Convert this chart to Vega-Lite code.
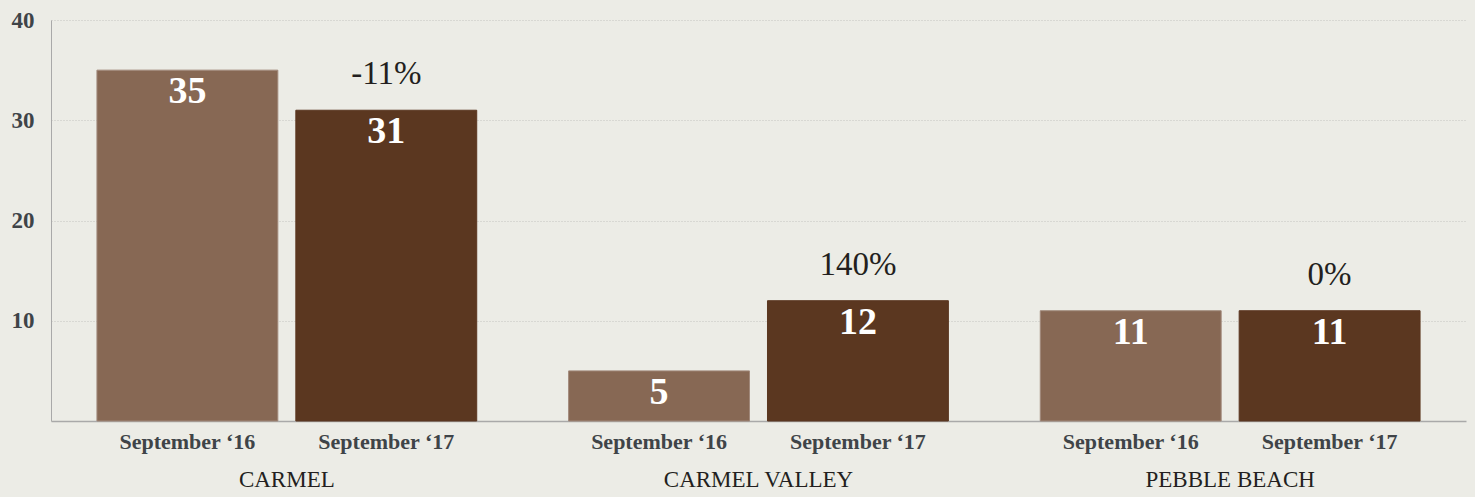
{
  "$schema": "https://vega.github.io/schema/vega-lite/v6.json",
  "width": 1415,
  "height": 401,
  "autosize": {"type": "none"},
  "padding": {"left": 51, "top": 20, "right": 9, "bottom": 76},
  "background": "#ECECE6",
  "config": {
    "view": {"stroke": null},
    "font": "Liberation Serif"
  },
  "data": {
    "values": [
      {"area": "Carmel", "period": "September ‘16", "listings": 35, "change": ""},
      {"area": "Carmel", "period": "September ‘17", "listings": 31, "change": "-11%"},
      {"area": "Carmel Valley", "period": "September ‘16", "listings": 5, "change": ""},
      {"area": "Carmel Valley", "period": "September ‘17", "listings": 12, "change": "140%"},
      {"area": "Pebble Beach", "period": "September ‘16", "listings": 11, "change": ""},
      {"area": "Pebble Beach", "period": "September ‘17", "listings": 11, "change": "0%"}
    ]
  },
  "encoding": {
    "x": {
      "field": "area",
      "type": "nominal",
      "sort": ["Carmel", "Carmel Valley", "Pebble Beach"],
      "scale": {"paddingInner": 0, "paddingOuter": 0},
      "axis": {
        "title": null,
        "labelAngle": 0,
        "ticks": false,
        "tickSize": 0,
        "labelPadding": 47,
        "labelLimit": 0,
        "labelFont": "Liberation Serif",
        "labelFontSize": 23,
        "labelColor": "#231f20",
        "labelExpr": "upper(datum.label)",
        "domainColor": "#a9a9a9",
        "domainWidth": 1.5,
        "grid": false
      }
    },
    "xOffset": {
      "field": "period",
      "type": "nominal",
      "sort": ["September ‘16", "September ‘17"],
      "scale": {"paddingInner": 0.0905, "paddingOuter": 0.231}
    },
    "y": {
      "field": "listings",
      "type": "quantitative",
      "scale": {"domain": [0, 40], "nice": false},
      "axis": {
        "title": null,
        "values": [10, 20, 30, 40],
        "ticks": false,
        "labelPadding": 17,
        "labelFont": "Liberation Serif",
        "labelFontSize": 23,
        "labelFontWeight": "bold",
        "labelColor": "#3f4448",
        "domainColor": "#a9a9a9",
        "gridColor": "#c4c4c0",
        "gridDash": [1, 2]
      }
    }
  },
  "layer": [
    {
      "mark": {"type": "bar", "strokeWidth": 1},
      "encoding": {
        "color": {
          "field": "period",
          "type": "nominal",
          "scale": {"domain": ["September ‘16", "September ‘17"], "range": ["#876854", "#5B3720"]},
          "legend": null
        },
        "stroke": {
          "field": "period",
          "type": "nominal",
          "scale": {"domain": ["September ‘16", "September ‘17"], "range": ["#a1897b", "#5B3720"]},
          "legend": null
        }
      }
    },
    {
      "mark": {"type": "text", "color": "white", "fontSize": 38, "fontWeight": "bold", "baseline": "alphabetic", "dy": 33, "font": "Liberation Serif"},
      "encoding": {"text": {"field": "listings", "type": "quantitative"}}
    },
    {
      "mark": {"type": "text", "color": "#231f20", "fontSize": 33, "baseline": "alphabetic", "dy": -26, "font": "Liberation Serif"},
      "encoding": {"text": {"field": "change", "type": "nominal"}}
    },
    {
      "mark": {"type": "text", "color": "#3f4448", "fontSize": 22, "fontWeight": "bold", "baseline": "top", "dy": 11, "font": "Liberation Serif"},
      "encoding": {
        "y": {"datum": 0, "type": "quantitative"},
        "text": {"field": "period", "type": "nominal"}
      }
    }
  ]
}
